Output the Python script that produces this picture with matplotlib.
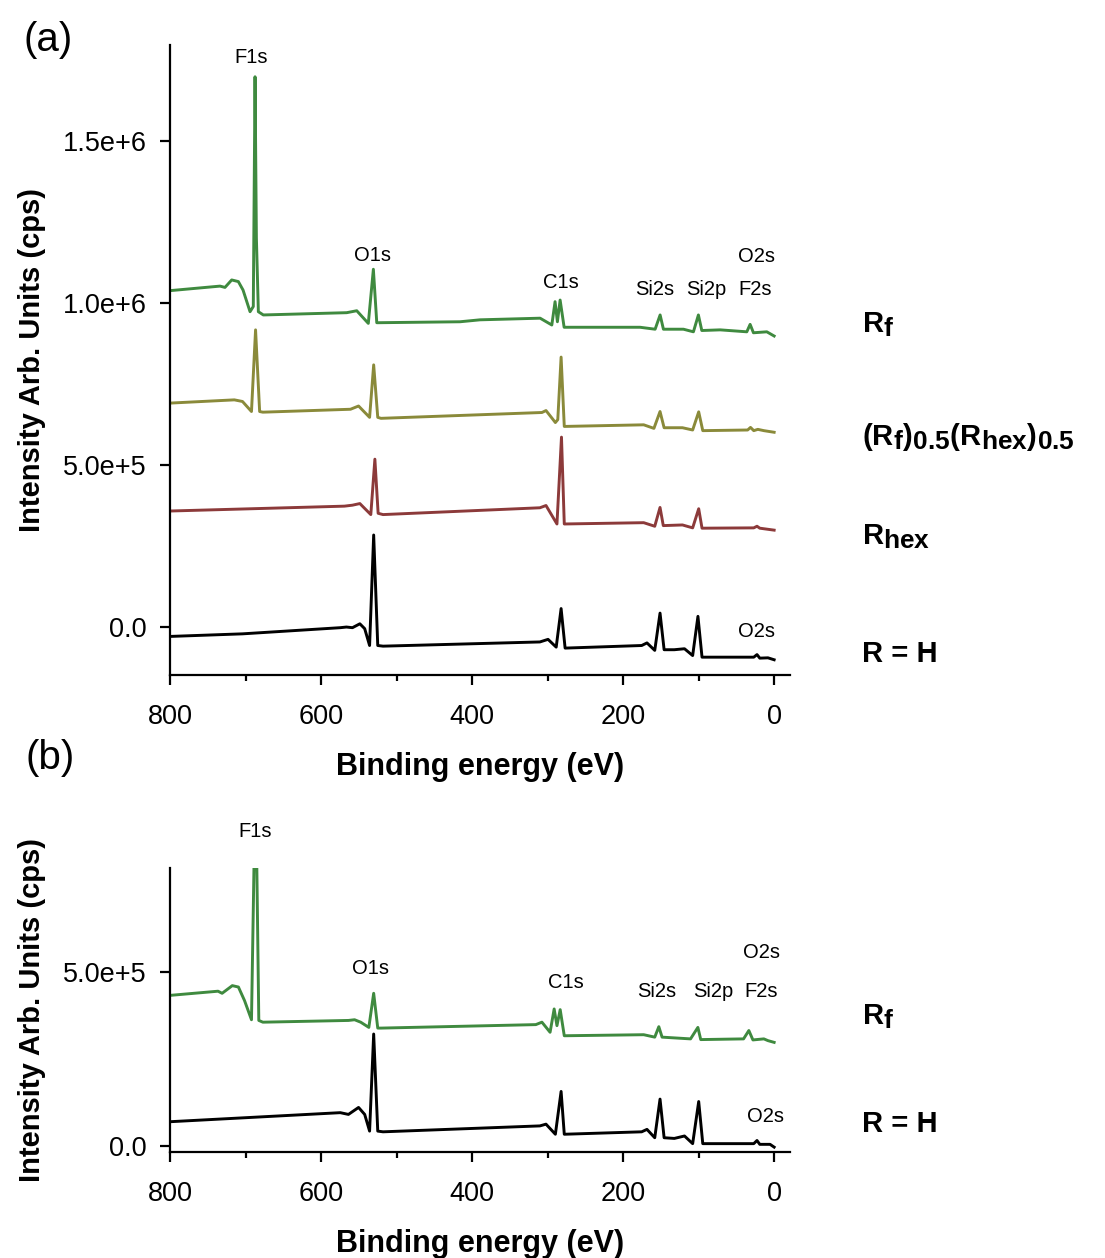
import matplotlib
matplotlib.use('Agg')
import matplotlib.pyplot as plt
import matplotlib._mathtext as _mt
from matplotlib.ticker import MultipleLocator, FixedLocator, FixedFormatter

plt.rcParams['font.family'] = 'Liberation Sans'
plt.rcParams['mathtext.fontset'] = 'custom'
plt.rcParams['mathtext.rm'] = 'Liberation Sans'
plt.rcParams['mathtext.bf'] = 'Liberation Sans:bold'
plt.rcParams['mathtext.it'] = 'Liberation Sans:italic'
# subscripts in the original are nearly full size
_mt.SHRINK_FACTOR = 0.9

# ---- panel (a) spectra: binding energy (eV), intensity (1e6 cps) ----
e_rf_a = [800, 733.8, 727.2, 718.3, 709.5, 703.3, 694.0, 689.7, 687.4, 685.6, 683.0, 676.4,
          566.0, 552.7, 537.4, 530.7, 526.2, 415.9, 389.4, 309.9, 294.4, 290.1, 287.0, 283.4,
          278.1, 177.5, 157.6, 151.0, 146.6, 120.1, 106.9, 100.3, 95.8, 71.5, 36.2, 31.8,
          27.4, 9.7, 0]
i_rf_a = [1.038, 1.052, 1.048, 1.071, 1.066, 1.040, 0.973, 0.989, 1.698, 1.200, 0.973, 0.963,
          0.970, 0.976, 0.937, 1.104, 0.939, 0.942, 0.948, 0.953, 0.932, 1.004, 0.942, 1.009,
          0.925, 0.925, 0.919, 0.963, 0.919, 0.919, 0.911, 0.963, 0.915, 0.917, 0.911, 0.934,
          0.908, 0.911, 0.898]

e_mix_a = [800, 714.8, 704.0, 692.1, 686.7, 681.3, 677.0, 561.0, 550.3, 535.7, 530.3, 524.9,
           520.6, 307.5, 302.1, 293.0, 289.7, 286.5, 282.1, 277.9, 172.7, 159.2, 151.1, 145.7,
           121.4, 107.9, 99.9, 94.5, 35.1, 31.3, 27.0, 21.6, 13.6, 0]
i_mix_a = [0.691, 0.701, 0.696, 0.665, 0.917, 0.665, 0.663, 0.672, 0.682, 0.647, 0.809, 0.647,
           0.644, 0.662, 0.668, 0.641, 0.631, 0.640, 0.833, 0.619, 0.624, 0.613, 0.665, 0.615,
           0.615, 0.608, 0.664, 0.606, 0.608, 0.616, 0.606, 0.610, 0.606, 0.601]

e_hex_a = [800, 569.1, 558.4, 548.6, 534.1, 528.7, 524.4, 517.9, 310.2, 302.1, 287.6, 281.6,
           277.9, 172.7, 158.1, 151.1, 146.8, 121.4, 107.9, 99.9, 95.5, 27.0, 22.7, 19.0, 0]
i_hex_a = [0.358, 0.373, 0.376, 0.381, 0.347, 0.518, 0.351, 0.347, 0.368, 0.375, 0.318, 0.586,
           0.318, 0.322, 0.311, 0.369, 0.313, 0.315, 0.306, 0.365, 0.305, 0.306, 0.311, 0.305,
           0.299]

e_h_a = [800, 704.0, 574.5, 566.4, 558.4, 548.6, 542.2, 535.7, 530.3, 524.9, 517.9, 310.2,
         299.4, 288.6, 282.1, 276.8, 175.4, 168.4, 158.1, 151.1, 145.7, 132.2, 118.7, 107.9,
         100.9, 95.5, 27.0, 22.7, 19.0, 8.2, 0]
i_h_a = [-0.029, -0.021, -0.002, 0.000, -0.002, 0.010, -0.005, -0.057, 0.284, -0.057, -0.059,
         -0.046, -0.038, -0.062, 0.057, -0.065, -0.057, -0.049, -0.072, 0.043, -0.070, -0.070,
         -0.067, -0.088, 0.033, -0.093, -0.093, -0.085, -0.096, -0.095, -0.101]

# ---- panel (b) spectra ----
e_rf_b = [800, 736.4, 731.0, 717.5, 709.4, 701.3, 692.1, 686.7, 682.4, 677.0, 563.7, 555.6,
          547.5, 536.7, 530.3, 524.9, 520.6, 315.6, 307.5, 296.7, 291.3, 287.6, 283.3, 277.9,
          172.7, 158.1, 152.7, 148.4, 110.7, 101.0, 97.2, 40.5, 33.5, 28.1, 13.6, 8.2, 0]
i_rf_b = [0.433, 0.445, 0.439, 0.461, 0.457, 0.418, 0.363, 1.080, 0.361, 0.356, 0.361, 0.363,
          0.356, 0.341, 0.439, 0.339, 0.339, 0.349, 0.356, 0.327, 0.394, 0.346, 0.392, 0.317,
          0.320, 0.313, 0.343, 0.313, 0.308, 0.341, 0.306, 0.308, 0.332, 0.305, 0.308, 0.303,
          0.298]

e_h_b = [800, 574.5, 563.7, 550.3, 542.2, 535.7, 530.3, 524.9, 517.9, 310.2, 302.1, 289.7,
         282.1, 277.9, 175.4, 168.4, 158.1, 151.1, 145.7, 132.2, 118.7, 107.9, 99.9, 94.5,
         27.0, 22.7, 19.0, 5.4, 0]
i_h_b = [0.070, 0.096, 0.091, 0.111, 0.091, 0.043, 0.322, 0.043, 0.041, 0.058, 0.063, 0.034,
         0.157, 0.034, 0.041, 0.048, 0.024, 0.135, 0.024, 0.022, 0.029, 0.007, 0.128, 0.007,
         0.007, 0.016, 0.005, 0.005, -0.003]

# peak labels: text, energy, intensity (1e6)
peaks_a = [('F1s', 693, 1.756), ('O1s', 532.5, 1.145), ('C1s', 282, 1.062),
           ('Si2s', 158, 1.043), ('Si2p', 90, 1.043), ('O2s', 23, 1.142),
           ('F2s', 25, 1.043), ('O2s', 23, -0.015)]
peaks_b = [('F1s', 687, 0.905), ('O1s', 534, 0.509), ('C1s', 275.5, 0.471),
           ('Si2s', 156, 0.445), ('Si2p', 81, 0.445), ('O2s', 17, 0.555),
           ('F2s', 17, 0.445), ('O2s', 12, 0.086)]

c_green = '#3f8a3f'
c_olive = '#8a8a3a'
c_red = '#8c3a3a'
c_black = 'black'

fig = plt.figure(figsize=(11.05, 12.58), dpi=100)
ax1 = fig.add_axes([170/1105, 1-675/1258, 620/1105, 630/1258])
ax2 = fig.add_axes([170/1105, 1-1152/1258, 620/1105, 284/1258])

lw = 2.1
ax1.plot(e_rf_a, [v*1e6 for v in i_rf_a], color=c_green, lw=lw)
ax1.plot(e_mix_a, [v*1e6 for v in i_mix_a], color=c_olive, lw=lw)
ax1.plot(e_hex_a, [v*1e6 for v in i_hex_a], color=c_red, lw=lw)
ax1.plot(e_h_a, [v*1e6 for v in i_h_a], color=c_black, lw=lw)

ax2.plot(e_rf_b, [v*1e6 for v in i_rf_b], color=c_green, lw=lw)
ax2.plot(e_h_b, [v*1e6 for v in i_h_b], color=c_black, lw=lw)

ax1.set_xlim(800, -21)
ax1.set_ylim(-0.148e6, 1.796e6)
ax2.set_xlim(800, -21)
ax2.set_ylim(-0.017e6, 0.799e6)

ax1.yaxis.set_major_locator(FixedLocator([0, 0.5e6, 1.0e6, 1.5e6]))
ax1.yaxis.set_major_formatter(FixedFormatter(['0.0', '5.0e+5', '1.0e+6', '1.5e+6']))
ax2.yaxis.set_major_locator(FixedLocator([0, 0.5e6]))
ax2.yaxis.set_major_formatter(FixedFormatter(['0.0', '5.0e+5']))

for ax, peaks in [(ax1, peaks_a), (ax2, peaks_b)]:
    for s in ['top', 'right']:
        ax.spines[s].set_visible(False)
    for s in ['left', 'bottom']:
        ax.spines[s].set_linewidth(1.6)
    ax.xaxis.set_major_locator(MultipleLocator(200))
    ax.xaxis.set_minor_locator(MultipleLocator(100))
    ax.tick_params(which='major', length=7, width=1.6, labelsize=19.5)
    ax.tick_params(axis='y', which='major', pad=10)
    ax.tick_params(axis='x', which='major', pad=14)
    ax.tick_params(which='minor', length=4, width=1.6)
    ax.set_xlabel('Binding energy (eV)', fontsize=22, fontweight='bold', labelpad=16)
    ax.set_ylabel('Intensity Arb. Units (cps)', fontsize=21, fontweight='bold')
    ax.yaxis.set_label_coords(-0.2, 0.5)
    for txt, e, v in peaks:
        ax.text(e, v*1e6, txt, ha='center', va='center', fontsize=14.5, clip_on=False)

fig.text(48/1105, 1-40/1258, '(a)', fontsize=29, ha='center', va='center')
fig.text(50/1105, 1-758/1258, '(b)', fontsize=29, ha='center', va='center')

series_labels = [(r'$\mathbf{R_f}$', 325), (r'$\mathbf{(R_f)_{0.5}(R_{hex})_{0.5}}$', 437),
                 (r'$\mathbf{R_{hex}}$', 537), ('R = H', 654),
                 (r'$\mathbf{R_f}$', 1017), ('R = H', 1124)]
for lab, py in series_labels:
    fig.text(862/1105, 1-py/1258, lab, fontsize=21, fontweight='bold', ha='left', va='center')

fig.savefig('out.png', dpi=100)
